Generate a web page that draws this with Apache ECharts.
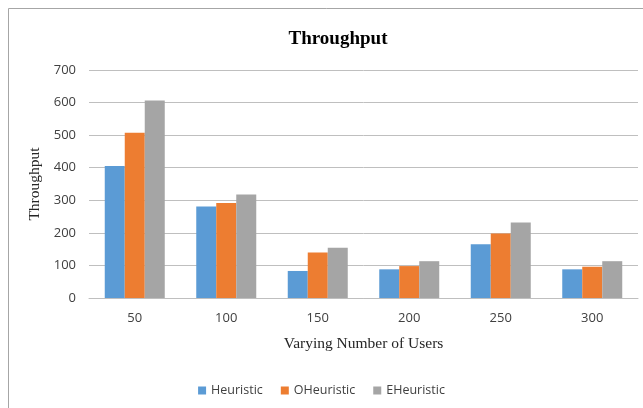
<!DOCTYPE html>
<html><head><meta charset="utf-8">
<script src="https://cdn.jsdelivr.net/npm/echarts@6/dist/echarts.min.js"></script>
<style>html,body{margin:0;padding:0;background:#fff}#c{width:643px;height:408px}</style>
</head><body><div id="c"></div>
<script>
const categories = ['50','100','150','200','250','300'];
const heuristic = [405, 281, 83, 88, 165, 88];
const oHeuristic = [507, 292, 140, 98, 198, 96];
const eHeuristic = [606, 318, 154, 113, 232, 113];
const seriesNames = ['Heuristic','OHeuristic','EHeuristic'];
const colors = ['#5B9BD5','#ED7D31','#A5A5A5'];

const chart = echarts.init(document.getElementById('c'));
const mk = (name, data, color) => ({
  name, type:'bar', data, barWidth:20, barGap:'0%',
  itemStyle:{color}, emphasis:{disabled:true}
});
chart.setOption({
  animation:false,
  color: colors,
  graphic:[{type:'rect', shape:{x:8.5,y:8.5,width:700,height:500}, style:{fill:'none', stroke:'#a6a6a6', lineWidth:1}, silent:true}],
  title:{text:'Throughput', left:333, top:25, textAlign:'center',
    textStyle:{fontFamily:'Liberation Serif', fontWeight:'bold', fontSize:19, color:'#000'}},
  legend:{top:379, left:'center', itemWidth:8, itemHeight:8, itemGap:18, icon:'rect',
    textStyle:{fontFamily:'Open Sans', fontSize:12.5, color:'#404040'}, data:seriesNames},
  grid:{left:89, right:5, top:70, bottom:110},
  xAxis:{type:'category', data:categories,
    name:'Varying Number of Users', nameLocation:'middle', nameGap:38,
    nameTextStyle:{fontFamily:'Liberation Serif', fontSize:15.5, color:'#262626'},
    axisLine:{lineStyle:{color:'#bfbfbf'}}, axisTick:{show:false},
    axisLabel:{fontFamily:'Open Sans', fontSize:13, color:'#404040', margin:14}},
  yAxis:{type:'value', min:0, max:700, interval:100,
    name:'Throughput', nameLocation:'middle', nameGap:40,
    nameTextStyle:{fontFamily:'Liberation Serif', fontSize:15.5, color:'#262626'},
    axisLine:{show:false}, axisTick:{show:false},
    axisLabel:{fontFamily:'Open Sans', fontSize:13, color:'#404040', margin:13},
    splitLine:{lineStyle:{color:'#bfbfbf'}}},
  series:[mk(seriesNames[0], heuristic, colors[0]), mk(seriesNames[1], oHeuristic, colors[1]), mk(seriesNames[2], eHeuristic, colors[2])]
});
</script></body></html>
